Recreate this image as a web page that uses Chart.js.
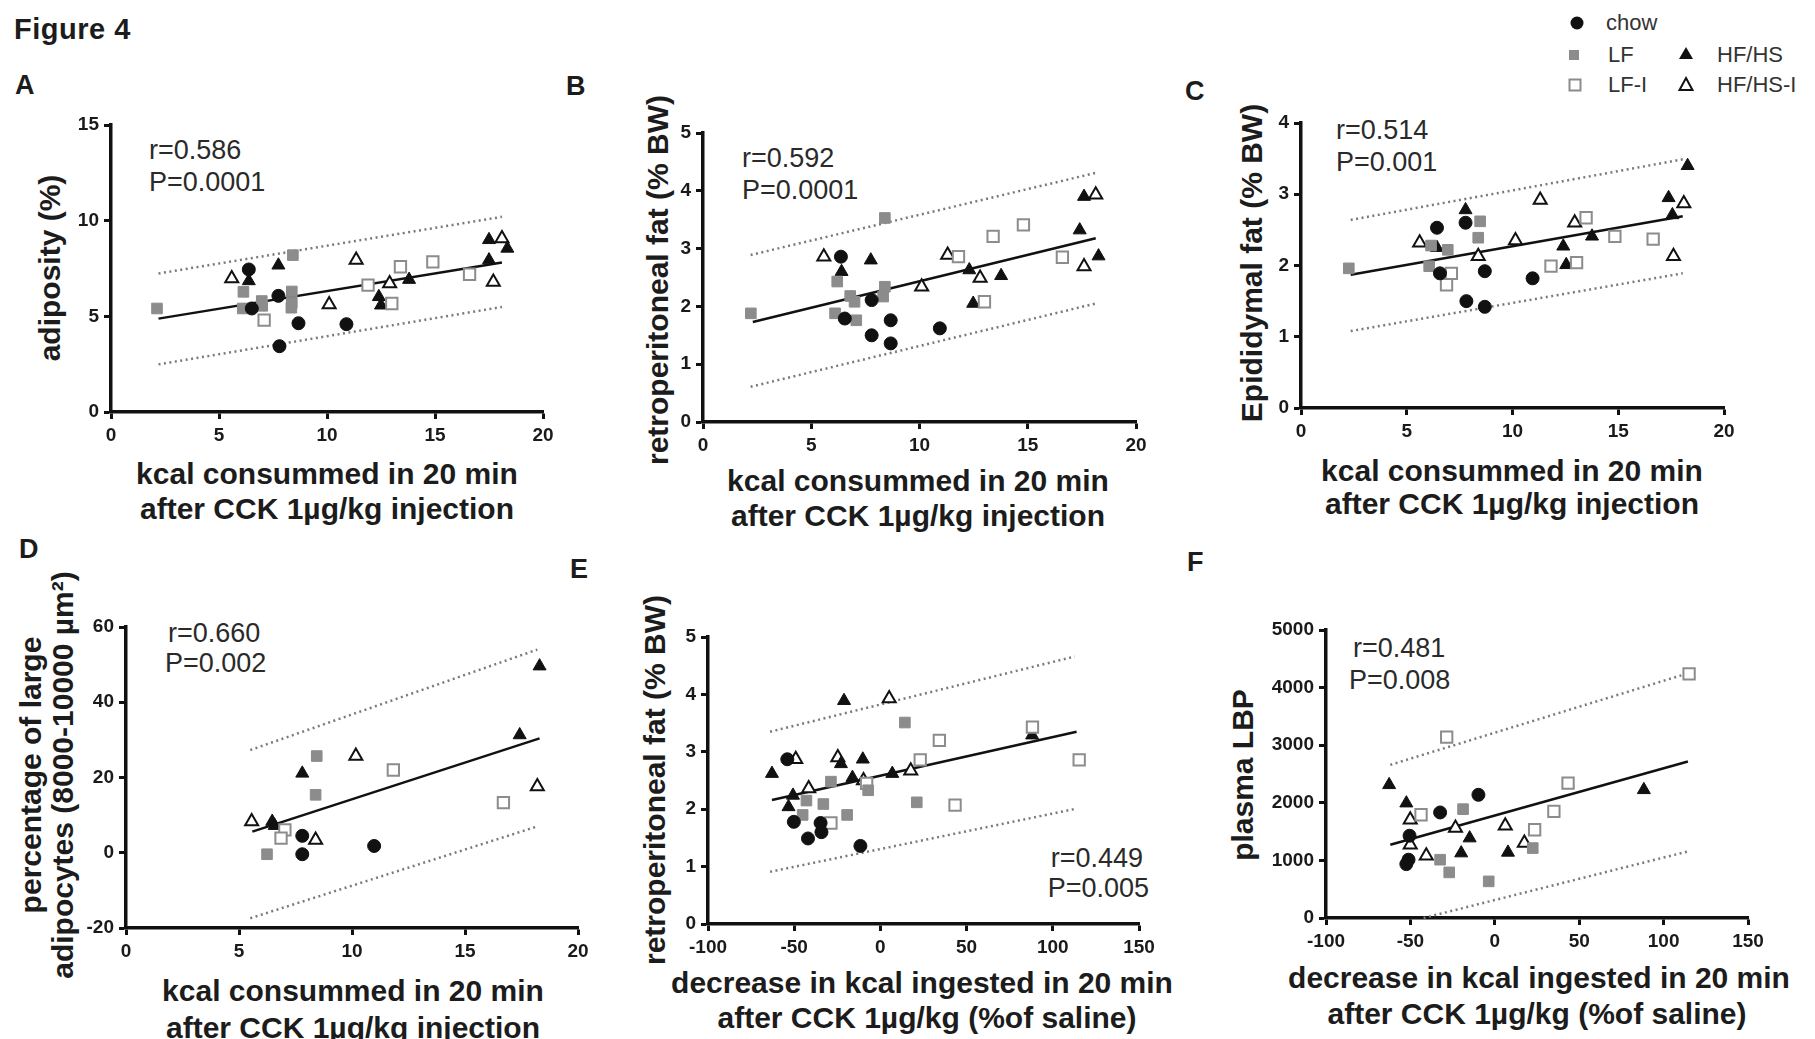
<!DOCTYPE html>
<html>
<head>
<meta charset="utf-8">
<script src="https://cdn.jsdelivr.net/npm/chart.js@4.4.1/dist/chart.umd.min.js"></script>
<style>
  body { margin: 0; background: #fff; width: 1815px; height: 1039px; overflow: hidden; position: relative;
         font-family: "Liberation Sans", Arial, sans-serif; color: #1c1c1c; }
  .t   { position: absolute; white-space: nowrap; line-height: 1; }
  .fig { font-size: 29px; font-weight: bold; letter-spacing: 0.5px; }
  .let { font-size: 27px; font-weight: bold; }
  .rp  { font-size: 27px; color: #2a2a2a; }
  .xl  { font-size: 30px; font-weight: bold; transform: translateX(-50%); }
  .yl  { font-size: 30px; font-weight: bold; transform: translate(-50%, -50%) rotate(-90deg); }
  .ra  { transform: translateX(-100%); }
  .lg  { font-size: 22px; color: #333; }
  canvas { position: absolute; }
  svg  { position: absolute; }
</style>
</head>
<body>

<div class="t fig" style="left:14px;top:15px">Figure 4</div>

<!-- panel letters -->
<div class="t let" style="left:15px;top:72px">A</div>
<div class="t let" style="left:566px;top:73px">B</div>
<div class="t let" style="left:1185px;top:78px">C</div>
<div class="t let" style="left:19px;top:536px">D</div>
<div class="t let" style="left:570px;top:556px">E</div>
<div class="t let" style="left:1187px;top:549px">F</div>

<!-- legend -->
<svg style="left:1560px;top:8px" width="150" height="95">
  <circle cx="17" cy="15" r="6.5" fill="#111"/>
  <rect x="9" y="42" width="10" height="10" fill="#8c8c8c"/>
  <rect x="9.5" y="71.5" width="11" height="11" fill="#fff" stroke="#8c8c8c" stroke-width="2"/>
  <polygon points="126,39 133,51 119,51" fill="#111"/>
  <polygon points="126,70 132.5,82 119.5,82" fill="#fff" stroke="#111" stroke-width="2"/>
</svg>
<div class="t lg" style="left:1606px;top:12px">chow</div>
<div class="t lg" style="left:1608px;top:44px">LF</div>
<div class="t lg" style="left:1608px;top:74px">LF-I</div>
<div class="t lg" style="left:1717px;top:44px">HF/HS</div>
<div class="t lg" style="left:1717px;top:74px">HF/HS-I</div>

<!-- r / P annotations -->
<div class="t rp" style="left:149px;top:137px">r=0.586</div>
<div class="t rp" style="left:149px;top:169px">P=0.0001</div>
<div class="t rp" style="left:742px;top:145px">r=0.592</div>
<div class="t rp" style="left:742px;top:177px">P=0.0001</div>
<div class="t rp" style="left:1336px;top:117px">r=0.514</div>
<div class="t rp" style="left:1336px;top:149px">P=0.001</div>
<div class="t rp" style="left:168px;top:620px">r=0.660</div>
<div class="t rp" style="left:165px;top:650px">P=0.002</div>
<div class="t rp ra" style="left:1143px;top:845px">r=0.449</div>
<div class="t rp ra" style="left:1149px;top:875px">P=0.005</div>
<div class="t rp" style="left:1353px;top:635px">r=0.481</div>
<div class="t rp" style="left:1349px;top:667px">P=0.008</div>

<!-- x axis titles -->
<div class="t xl" style="left:327px;top:459px">kcal consummed in 20 min</div>
<div class="t xl" style="left:327px;top:494px">after CCK 1µg/kg injection</div>
<div class="t xl" style="left:918px;top:466px">kcal consummed in 20 min</div>
<div class="t xl" style="left:918px;top:501px">after CCK 1µg/kg injection</div>
<div class="t xl" style="left:1512px;top:456px">kcal consummed in 20 min</div>
<div class="t xl" style="left:1512px;top:489px">after CCK 1µg/kg injection</div>
<div class="t xl" style="left:353px;top:976px">kcal consummed in 20 min</div>
<div class="t xl" style="left:353px;top:1013px">after CCK 1µg/kg injection</div>
<div class="t xl" style="left:922px;top:968px">decrease in kcal ingested in 20 min</div>
<div class="t xl" style="left:927px;top:1003px">after CCK 1µg/kg (%of saline)</div>
<div class="t xl" style="left:1539px;top:963px">decrease in kcal ingested in 20 min</div>
<div class="t xl" style="left:1537px;top:999px">after CCK 1µg/kg (%of saline)</div>

<!-- y axis titles -->
<div class="t yl" style="left:50px;top:268px">adiposity (%)</div>
<div class="t yl" style="left:658px;top:280px">retroperitoneal fat (% BW)</div>
<div class="t yl" style="left:1252px;top:263px">Epididymal fat (% BW)</div>
<div class="t yl" style="left:31px;top:775px">percentage of large</div>
<div class="t yl" style="left:63px;top:775px">adipocytes (8000-10000 µm²)</div>
<div class="t yl" style="left:655px;top:780px">retroperitoneal fat (% BW)</div>
<div class="t yl" style="left:1243px;top:775px">plasma LBP</div>

<script>
// ── Data: panel A (adiposity vs kcal) ─────────────────
const aChow   = [[6.38, 7.45], [6.52, 5.41], [7.75, 6.07], [7.8, 3.44], [8.68, 4.64], [10.9, 4.59]]
const aLF     = [[2.13, 5.41], [6.13, 6.28], [6.1, 5.41], [6.98, 5.8], [7.0, 5.55], [8.42, 8.2], [8.37, 6.3], [8.37, 5.7], [8.35, 5.45]]
const aLFI    = [[7.09, 4.8], [11.9, 6.63], [13.0, 5.67], [13.4, 7.59], [14.9, 7.85], [16.6, 7.2]]
const aHF     = [[6.38, 6.85], [7.75, 7.67], [12.4, 6.02], [12.5, 5.58], [13.8, 6.92], [17.5, 7.94], [17.5, 9.0], [18.35, 8.55]]
const aHFI    = [[5.59, 6.98], [10.1, 5.62], [11.35, 7.94], [12.9, 6.72], [18.1, 9.07], [17.7, 6.8]]
const aFit    = [[2.2, 4.88], [18.1, 7.81]]
const aUpper  = [[2.2, 7.24], [18.1, 10.2]]
const aLower  = [[2.2, 2.49], [18.1, 5.49]]

// ── Data: panel B (retroperitoneal fat vs kcal) ───────
const bChow   = [[6.37, 2.86], [6.55, 1.79], [7.79, 2.11], [7.79, 1.5], [8.67, 1.76], [8.67, 1.36], [10.94, 1.62]]
const bLF     = [[2.21, 1.88], [6.2, 2.43], [6.1, 1.88], [6.8, 2.18], [7.0, 2.08], [7.08, 1.76], [8.4, 3.53], [8.4, 2.34], [8.32, 2.17]]
const bLFI    = [[11.8, 2.86], [13.0, 2.08], [13.4, 3.21], [14.8, 3.41], [16.6, 2.85]]
const bHF     = [[6.4, 2.6], [7.75, 2.8], [12.3, 2.63], [12.48, 2.05], [13.77, 2.53], [17.4, 3.32], [17.6, 3.9], [18.27, 2.87]]
const bHFI    = [[5.58, 2.86], [10.1, 2.34], [11.3, 2.89], [12.8, 2.49], [18.14, 3.93], [17.6, 2.69]]
const bFit    = [[2.3, 1.73], [18.14, 3.18]]
const bUpper  = [[2.2, 2.89], [18.14, 4.31]]
const bLower  = [[2.2, 0.61], [18.14, 2.05]]

// ── Data: panel C (epididymal fat vs kcal) ────────────
const cChow   = [[6.43, 2.53], [6.57, 1.89], [7.78, 2.6], [7.82, 1.5], [8.69, 1.92], [8.69, 1.42], [10.95, 1.82]]
const cLF     = [[2.26, 1.96], [6.15, 2.28], [6.94, 2.22], [6.06, 1.99], [8.47, 2.62], [8.38, 2.39]]
const cLFI    = [[7.11, 1.89], [6.88, 1.73], [11.82, 1.99], [13.03, 2.04], [13.48, 2.67], [14.84, 2.41], [16.65, 2.37]]
const cHF     = [[6.43, 2.25], [7.78, 2.78], [12.4, 2.27], [12.54, 2.01], [13.76, 2.41], [17.38, 2.95], [17.56, 2.71], [18.28, 3.4]]
const cHFI    = [[5.61, 2.32], [8.38, 2.13], [10.14, 2.35], [11.31, 2.92], [12.94, 2.6], [17.61, 2.13], [18.1, 2.87]]
const cFit    = [[2.35, 1.87], [18.05, 2.69]]
const cUpper  = [[2.35, 2.64], [18.05, 3.49]]
const cLower  = [[2.35, 1.08], [18.05, 1.89]]

// ── Data: panel D (large adipocytes vs kcal) ──────────
const dChow   = [[7.8, 4.5], [7.8, -0.4], [10.98, 1.8]]
const dLF     = [[6.24, -0.4], [8.44, 25.7], [8.39, 15.4]]
const dLFI    = [[7.03, 6.1], [6.86, 3.9], [11.83, 22.0], [16.7, 13.3]]
const dHF     = [[6.47, 8.3], [6.58, 7.2], [7.8, 21.1], [17.42, 31.3], [18.3, 49.6]]
const dHFI    = [[5.56, 8.3], [8.39, 3.4], [10.17, 25.7], [18.2, 17.6]]
const dFit    = [[5.59, 5.6], [18.3, 30.4]]
const dUpper  = [[5.5, 27.3], [18.2, 54.0]]
const dLower  = [[5.5, -17.4], [18.2, 7.0]]

// ── Data: panel E (retroperitoneal fat vs % decrease) ─
const eChow   = [[-54, 2.87], [-50.2, 1.78], [-42, 1.49], [-34.7, 1.76], [-34.2, 1.6], [-11.6, 1.36]]
const eLF     = [[-42.9, 2.15], [-45.1, 1.9], [-33.1, 2.09], [-28.7, 2.48], [-19.3, 1.9], [-7.1, 2.33], [14.2, 3.51], [21.1, 2.12]]
const eLFI    = [[-28.7, 1.76], [-8, 2.45], [23.1, 2.86], [34.2, 3.2], [43.3, 2.07], [88.2, 3.43], [115.3, 2.86]]
const eHF     = [[-62.9, 2.62], [-50.7, 2.24], [-53.3, 2.04], [-22.9, 2.79], [-16.2, 2.55], [-10.2, 2.87], [6.9, 2.62], [88, 3.29], [-21.1, 3.89]]
const eHFI    = [[-49.1, 2.87], [-41.6, 2.36], [-24.7, 2.9], [-9.8, 2.5], [17.6, 2.67], [5.1, 3.93]]
const eFit    = [[-62.9, 2.16], [113.8, 3.35]]
const eUpper  = [[-64, 3.35], [112.7, 4.66]]
const eLower  = [[-64, 0.91], [113.8, 2.01]]

// ── Data: panel F (plasma LBP vs % decrease) ──────────
const fChow   = [[-9.7, 2139], [-32.4, 1832], [-50.5, 1428], [-51.1, 1012], [-52.4, 936]]
const fLF     = [[-18.8, 1890], [22.5, 1214], [-32.4, 1012], [-27, 792], [-3.6, 636]]
const fLFI    = [[115.1, 4237], [-28.5, 3139], [-43.7, 1792], [23.6, 1532], [35, 1850], [43.4, 2341]]
const fHF     = [[-62.6, 2312], [-52.4, 1994], [-14.9, 1387], [88.3, 2225], [-19.9, 1127], [7.8, 1139]]
const fHFI    = [[-50.1, 1705], [-23.3, 1561], [-50.1, 1272], [6.2, 1601], [17.5, 1300], [-40.6, 1081]]
const fFit    = [[-61.9, 1272], [114.4, 2717]]
const fUpper  = [[-61.9, 2659], [114.4, 4248]]
const fLower  = [[-42.2, 0], [114.4, 1156]]

// ── Axis ranges [min, max, step] ──────────────────────
const kcalAxis  = [0, 20, 5]
const decAxis   = [-100, 150, 50]

// ── Panel layout (plot area in page px: left, right, top, bottom) ──
const PANELS = [
  { box: [111, 543, 125, 412],  x: kcalAxis, y: [0, 15, 5],        series: [aChow, aLF, aLFI, aHF, aHFI], fit: [aFit, aUpper, aLower] },
  { box: [703, 1136, 133, 422], x: kcalAxis, y: [0, 5, 1],         series: [bChow, bLF, bLFI, bHF, bHFI], fit: [bFit, bUpper, bLower] },
  { box: [1301, 1724, 123, 408],x: kcalAxis, y: [0, 4, 1],         series: [cChow, cLF, cLFI, cHF, cHFI], fit: [cFit, cUpper, cLower] },
  { box: [126, 578, 627, 928],  x: kcalAxis, y: [-20, 60, 20],     series: [dChow, dLF, dLFI, dHF, dHFI], fit: [dFit, dUpper, dLower] },
  { box: [708, 1139, 637, 924], x: decAxis,  y: [0, 5, 1],         series: [eChow, eLF, eLFI, eHF, eHFI], fit: [eFit, eUpper, eLower] },
  { box: [1326, 1748, 630, 918],x: decAxis,  y: [0, 5000, 1000],   series: [fChow, fLF, fLFI, fHF, fHFI], fit: [fFit, fUpper, fLower] }
]

// ── Marker styles per group ───────────────────────────
const GRAY = '#8c8c8c'
const INK  = '#111'
const GROUP_STYLE = [
  { label: 'chow',    pointStyle: 'circle',   pointRadius: 6.5, backgroundColor: INK,  borderColor: INK,  borderWidth: 1 },
  { label: 'LF',      pointStyle: 'rect',     pointRadius: 7.5, backgroundColor: GRAY, borderColor: GRAY, borderWidth: 1 },
  { label: 'LF-I',    pointStyle: 'rect',     pointRadius: 8,   backgroundColor: '#fff', borderColor: GRAY, borderWidth: 2 },
  { label: 'HF/HS',   pointStyle: 'triangle', pointRadius: 7.5, backgroundColor: INK,  borderColor: INK,  borderWidth: 1 },
  { label: 'HF/HS-I', pointStyle: 'triangle', pointRadius: 7.5, backgroundColor: '#fff', borderColor: INK, borderWidth: 2 }
]

const pts = arr => arr.map(([x, y]) => ({ x, y }))
const TICK_FONT = { family: '"Liberation Sans", Arial, sans-serif', size: 19, weight: 'bold' }

function axis(range, fitFn) {
  return {
    type: 'linear',
    min: range[0],
    max: range[1],
    afterFit: fitFn,
    ticks: { stepSize: range[2], autoSkip: false, maxRotation: 0, font: TICK_FONT, color: '#1a1a1a', padding: 5,
             callback: v => String(v) },
    grid:  { drawOnChartArea: false, drawTicks: true, tickLength: 7, tickColor: INK, tickWidth: 3, color: INK },
    border: { display: true, color: INK, width: 3.5 }
  }
}

function makePanel(p) {
  const PADL = 70, PADT = 22, PADR = 30, PADB = 48
  const w = p.box[1] - p.box[0]
  const h = p.box[3] - p.box[2]

  const cv = document.createElement('canvas')
  cv.width  = w + PADL + PADR
  cv.height = h + PADT + PADB
  cv.style.left = (p.box[0] - PADL) + 'px'
  cv.style.top  = (p.box[2] - PADT) + 'px'
  document.body.appendChild(cv)

  const groups = p.series.map((s, i) => ({ ...GROUP_STYLE[i], data: pts(s), showLine: false, clip: 10 }))
  const lines = p.fit.map((s, i) => ({
    label: i === 0 ? 'fit' : 'band',
    data: pts(s),
    showLine: true,
    pointRadius: 0,
    borderColor: i === 0 ? INK : '#7a7a7a',
    borderWidth: i === 0 ? 2.5 : 2.5,
    borderDash: i === 0 ? [] : [2, 3.5],
    clip: 10
  }))

  new Chart(cv.getContext('2d'), {
    type: 'scatter',
    data: { datasets: [...groups, ...lines] },
    options: {
      responsive: false,
      animation: false,
      devicePixelRatio: 1,
      layout: { padding: { left: 0, top: PADT, right: PADR, bottom: 0 } },
      plugins: { legend: { display: false }, tooltip: { enabled: false } },
      scales: {
        x: axis(p.x, s => { s.height = PADB }),
        y: axis(p.y, s => { s.width = PADL })
      }
    }
  })
}

PANELS.forEach(makePanel)
</script>
</body>
</html>
